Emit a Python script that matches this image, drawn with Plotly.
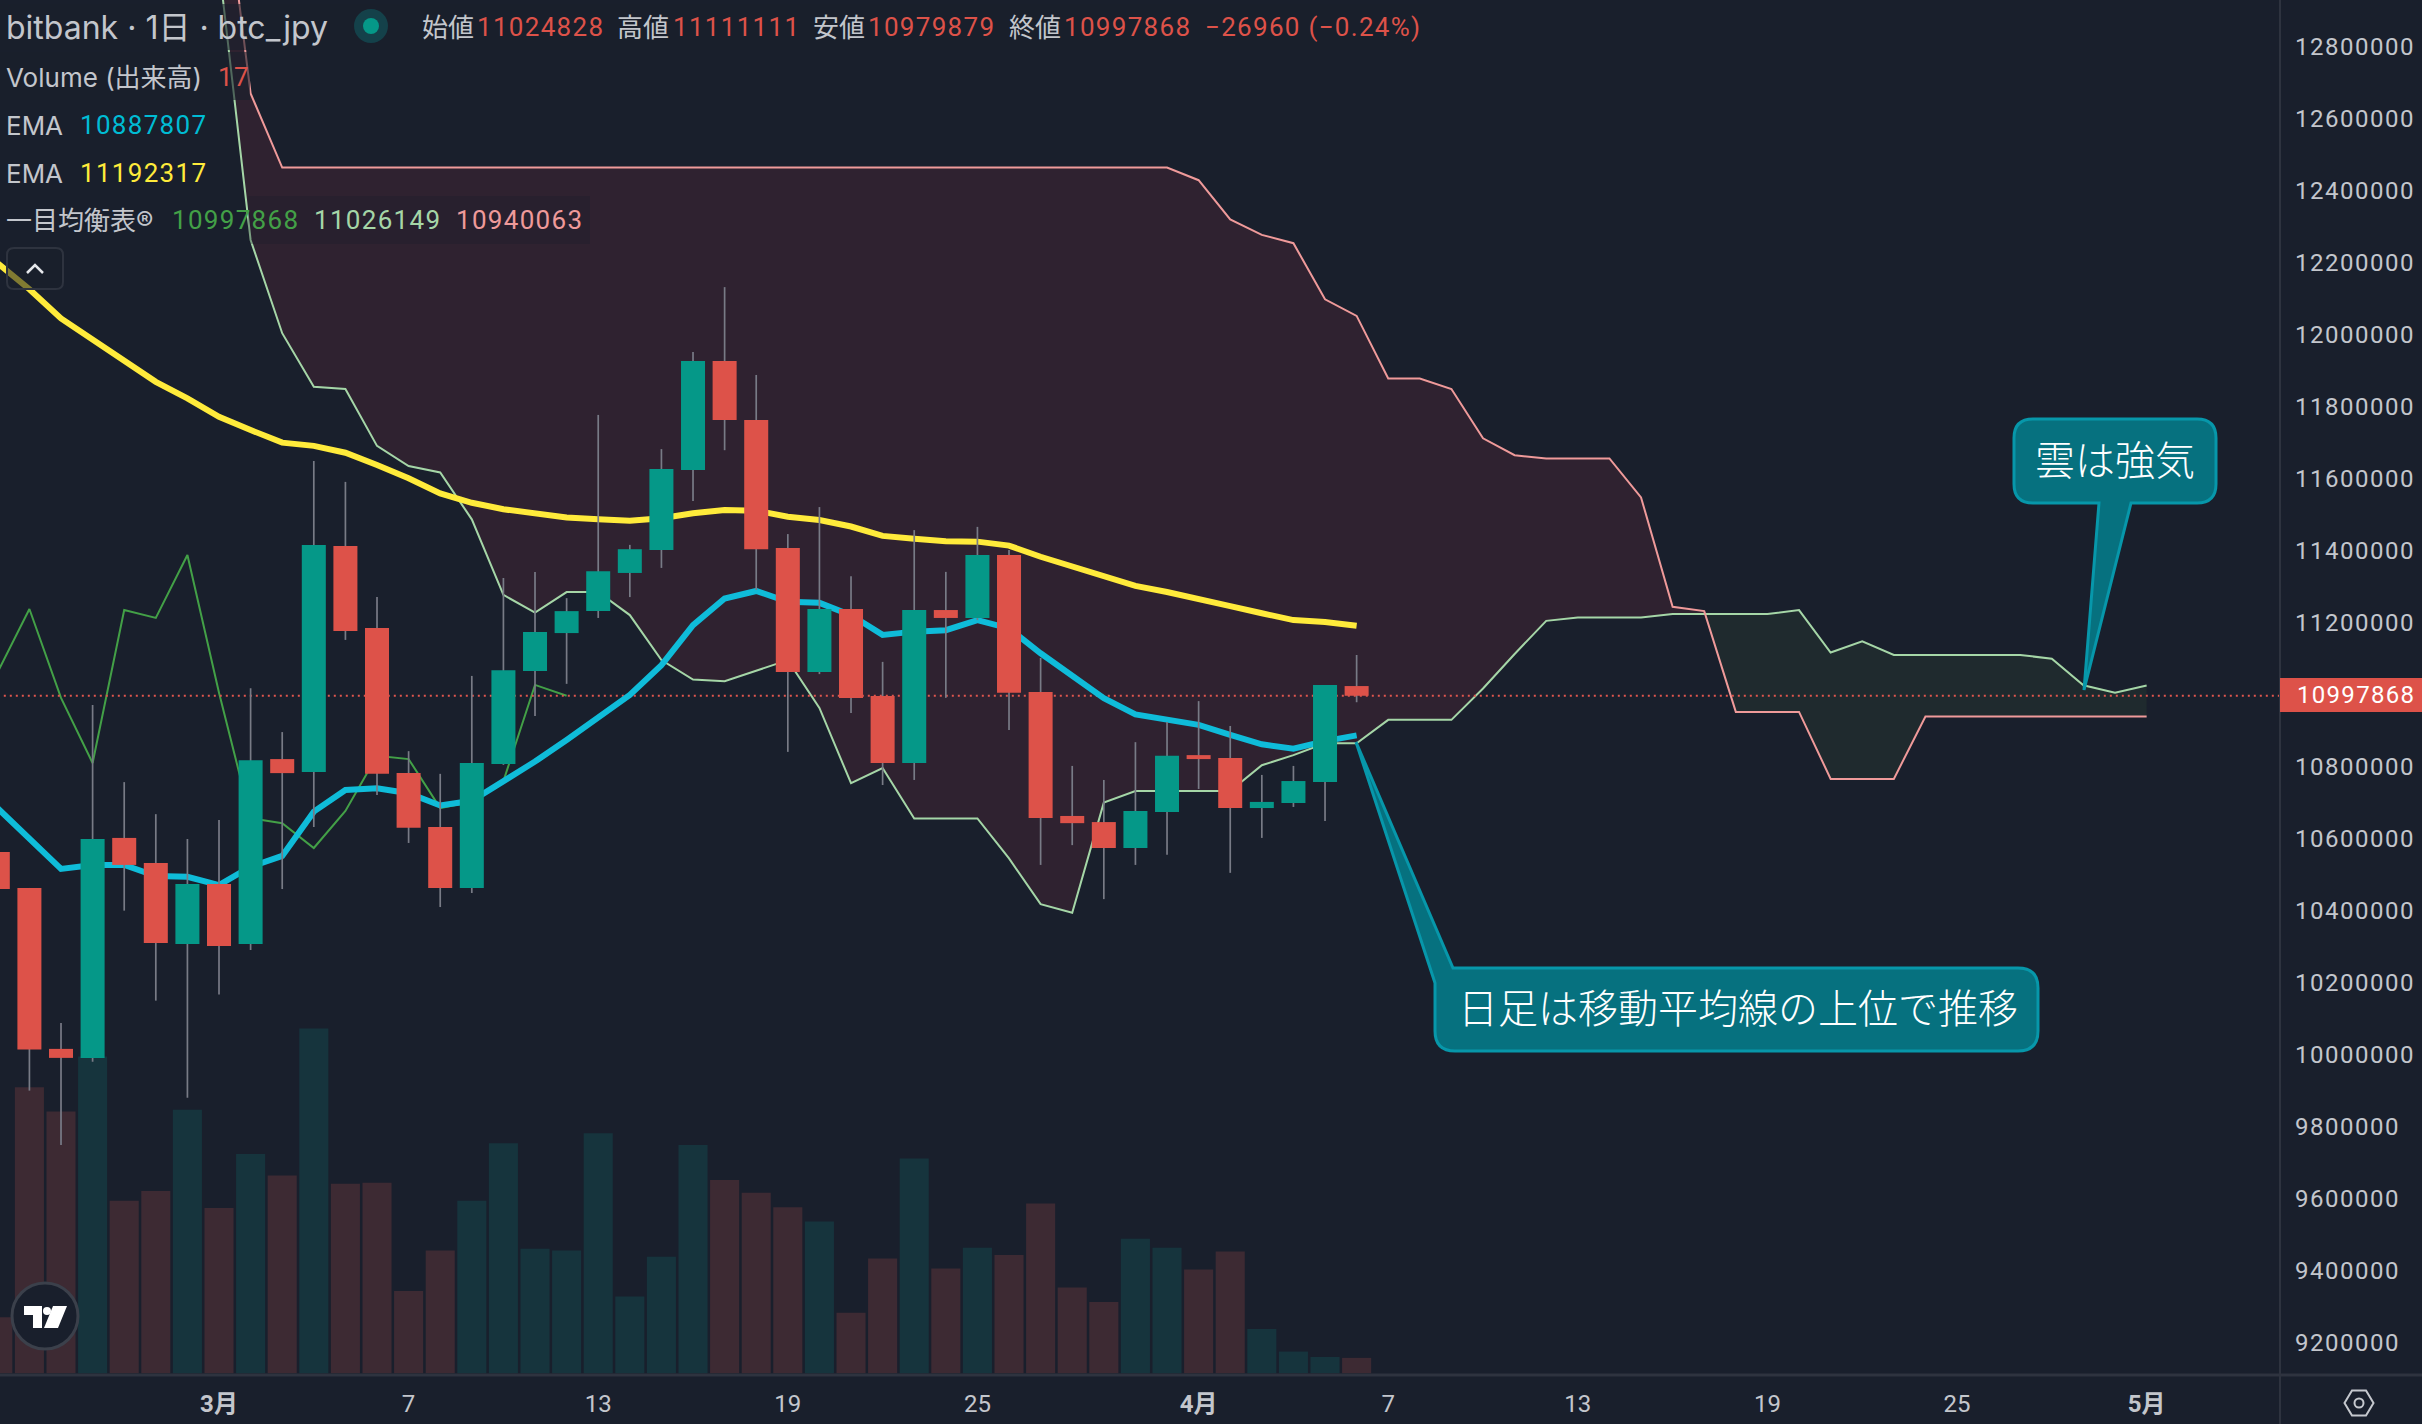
import pandas as pd
import plotly.graph_objects as go

# ------------------------------- DATA -------------------------------
opens = [10564000, 10464000, 10017000, 9992000, 10603000, 10533000, 10308000, 10475000, 10308000, 10822000,
         10786000, 11414000, 11186000, 10783000, 10633000, 10464000, 10808000, 11067000, 11172000, 11233000,
         11339000, 11403000, 11625000, 11928000, 11764000, 11408000, 11064000, 11239000, 10997000, 10811000,
         11236000, 11214000, 11389000, 11008000, 10664000, 10647000, 10575000, 10675000, 10833000, 10825000,
         10686000, 10700000, 10758000, 11024828]
highs = [10564000, 10464000, 10089000, 10972000, 10758000, 10669000, 10600000, 10653000, 11019000, 10897000,
         11650000, 11592000, 11272000, 10844000, 10781000, 11053000, 11325000, 11342000, 11269000, 11778000,
         11417000, 11683000, 11953000, 12133000, 11889000, 11447000, 11522000, 11330000, 11092000, 11458000,
         11342000, 11467000, 11403000, 11103000, 10803000, 10764000, 10869000, 10925000, 10983000, 10914000,
         10778000, 10803000, 11028000, 11111111]
lows = [10461000, 9901000, 9750000, 9981000, 10401000, 10151000, 9881000, 10168000, 10292000, 10461000,
        10633000, 11153000, 10722000, 10589000, 10411000, 10450000, 10806000, 10942000, 11031000, 11214000,
        11272000, 11353000, 11539000, 11680000, 11292000, 10842000, 11058000, 10950000, 10750000, 10764000,
        10992000, 11208000, 10903000, 10528000, 10583000, 10433000, 10528000, 10556000, 10739000, 10506000,
        10603000, 10689000, 10650000, 10979879]
closes = [10461000, 10015000, 9992000, 10600000, 10528000, 10311000, 10475000, 10303000, 10819000, 10783000,
          11417000, 11178000, 10781000, 10631000, 10464000, 10811000, 11069000, 11175000, 11233000, 11344000,
          11405000, 11628000, 11928000, 11764000, 11405000, 11064000, 11239000, 10992000, 10811000, 11236000,
          11214000, 11389000, 11006000, 10658000, 10644000, 10575000, 10678000, 10831000, 10822000, 10686000,
          10703000, 10761000, 11028000, 10997868]
volumes = [62, 317, 290, 351, 191, 202, 292, 183, 243, 219,
           382, 210, 211, 91, 136, 191, 255, 138, 136, 266,
           85, 129, 253, 214, 200, 184, 168, 67, 127, 238,
           116, 139, 131, 188, 95, 79, 149, 139, 115, 135,
           49, 24, 18, 17]
ema_short = [10685000, 10602000, 10517000, 10528000, 10528000, 10497000, 10495000, 10472000, 10523000, 10553000,
             10676000, 10736000, 10741000, 10727000, 10693000, 10706000, 10759000, 10815000, 10875000, 10935000,
             11000000, 11083000, 11194000, 11268000, 11289000, 11259000, 11256000, 11222000, 11167000, 11176000,
             11180000, 11208000, 11185000, 11116000, 11056000, 10991000, 10946000, 10932000, 10917000, 10889000,
             10863000, 10851000, 10872000, 10887807]
ema_long = [12199000, 12127000, 12046000, 11986000, 11930000, 11870000, 11824000, 11773000, 11736000, 11701000,
            11692000, 11673000, 11639000, 11602000, 11560000, 11534000, 11516000, 11503000, 11493000, 11488000,
            11484000, 11491000, 11505000, 11514000, 11512000, 11495000, 11486000, 11468000, 11442000, 11434000,
            11427000, 11426000, 11415000, 11384000, 11356000, 11327000, 11303000, 11286000, 11268000, 11247000,
            11227000, 11208000, 11203000, 11192317]
chikou = [11064000, 11239000, 10992000, 10811000, 11236000, 11214000, 11389000, 11006000, 10658000, 10644000,
          10575000, 10678000, 10831000, 10822000, 10686000, 10703000, 10761000, 11028000, 10997868]
span_a = [13027000, 12264000, 12005000, 11856000, 11850000, 11692000, 11636000, 11618000, 11488000, 11278000,
          11229000, 11286000, 11286000, 11222000, 11097000, 11043000, 11038000, 11068000, 11097000, 10964000,
          10755000, 10797000, 10657000, 10657000, 10657000, 10546000, 10419000, 10395000, 10701000, 10733000,
          10733000, 10733000, 10733000, 10805000, 10833000, 10866000, 10866000, 10931000, 10931000, 10931000,
          11018000, 11114000, 11206000, 11215000, 11215000, 11215000, 11225000, 11225000, 11225000, 11225000,
          11236000, 11118000, 11149000, 11111000, 11111000, 11111000, 11111000, 11111000, 11101000, 11027000,
          11006000, 11026149]
span_b = [13370000, 12671000, 12465000, 12465000, 12465000, 12465000, 12465000, 12465000, 12465000, 12465000,
          12465000, 12465000, 12465000, 12465000, 12465000, 12465000, 12465000, 12465000, 12465000, 12465000,
          12465000, 12465000, 12465000, 12465000, 12465000, 12465000, 12465000, 12465000, 12465000, 12465000,
          12465000, 12430000, 12321000, 12278000, 12255000, 12099000, 12053000, 11879000, 11879000, 11850000,
          11713000, 11666000, 11657000, 11657000, 11657000, 11549000, 11245000, 11233000, 10953000, 10953000,
          10953000, 10767000, 10767000, 10767000, 10940063, 10940063, 10940063, 10940063, 10940063, 10940063,
          10940063, 10940063]
last_price = 10997868

# 11000000 has no label: the last price tag takes its place
price_ticks = [9200000, 9400000, 9600000, 9800000, 10000000, 10200000, 10400000, 10600000, 10800000,
               11200000, 11400000, 11600000, 11800000, 12000000, 12200000, 12400000, 12600000, 12800000]
date_ticks = ["2025-03-01", "2025-03-07", "2025-03-13", "2025-03-19", "2025-03-25", "2025-04-01",
              "2025-04-07", "2025-04-13", "2025-04-19", "2025-04-25", "2025-05-01"]
date_labels = ["<b>3月</b>", "7", "13", "19", "25", "<b>4月</b>", "7", "13", "19", "25", "<b>5月</b>"]

# ------------------------------- COLORS -------------------------------
BG = "#191f2c"
RED = "#dd5249"
GREEN = "#059888"
TEXT = "#c3c6cc"
FONT = "Inter, 'Noto Sans CJK JP', sans-serif"
NUM_FONT = "Roboto, 'Noto Sans CJK JP', sans-serif"
JP_FONT = "'Noto Sans CJK JP', sans-serif"

# plot area in page pixels, for the overlay items drawn on paper coordinates
PLOT_W = 2280
PLOT_H = 1375


def px(x):
    return x / PLOT_W


def py(y):
    return 1 - y / PLOT_H


def pt(x, y):
    return f"{px(x):.5f},{py(y):.5f}"


def rounded_box(x0, y0, x1, y1, r):
    """Corner path pieces of a rounded box, clockwise from the top left corner end."""
    return (f"L{pt(x1 - r, y0)} Q{pt(x1, y0)} {pt(x1, y0 + r)} "
            f"L{pt(x1, y1 - r)} Q{pt(x1, y1)} {pt(x1 - r, y1)} "
            f"L{pt(x0 + r, y1)} Q{pt(x0, y1)} {pt(x0, y1 - r)} ")


# ------------------------------- TRACES -------------------------------
dates = pd.date_range("2025-02-22", periods=len(closes), freq="D")
chikou_dates = dates[:len(chikou)]
span_dates = pd.date_range("2025-03-01", periods=len(span_a), freq="D")
day_ms = 86400000

is_up = [c >= o for o, c in zip(opens, closes)]

fig = go.Figure()

# volume sits on the lower axis so everything on the price axis draws over it
fig.add_trace(go.Bar(
    x=dates, y=volumes, width=0.92 * day_ms,
    marker_color=["#16343d" if up else "#3d2a33" for up in is_up],
    marker_line_width=0, yaxis="y"
))

# cloud, split where the two spans cross
cross = 47
fig.add_trace(go.Scatter(
    x=list(span_dates[:cross + 1]) + list(span_dates[:cross + 1])[::-1],
    y=span_a[:cross + 1] + span_b[:cross + 1][::-1],
    fill="toself", fillcolor="#2f2230", mode="none", yaxis="y2", zorder=1
))
fig.add_trace(go.Scatter(
    x=list(span_dates[cross:]) + list(span_dates[cross:])[::-1],
    y=span_a[cross:] + span_b[cross:][::-1],
    fill="toself", fillcolor="#1f2a2e", mode="none", yaxis="y2", zorder=1
))
fig.add_trace(go.Scatter(x=span_dates, y=span_a, mode="lines", yaxis="y2", zorder=2,
                         line=dict(color="#a5d6a7", width=2)))
fig.add_trace(go.Scatter(x=span_dates, y=span_b, mode="lines", yaxis="y2", zorder=2,
                         line=dict(color="#ef9a9a", width=2)))
fig.add_trace(go.Scatter(x=chikou_dates, y=chikou, mode="lines", yaxis="y2", zorder=2,
                         line=dict(color="#43a047", width=2)))
fig.add_trace(go.Scatter(x=[dates[0], "2025-05-06"], y=[last_price, last_price], mode="lines", yaxis="y2", zorder=3,
                         line=dict(color="#e0564e", width=2, dash="2px,4px")))
fig.add_trace(go.Scatter(x=dates, y=ema_short, mode="lines", yaxis="y2", zorder=4,
                         line=dict(color="#0fbcd9", width=6)))
fig.add_trace(go.Scatter(x=dates, y=ema_long, mode="lines", yaxis="y2", zorder=4,
                         line=dict(color="#ffeb3b", width=6)))

# gray wicks under coloured bodies
wick_x, wick_y = [], []
for d, h, l in zip(dates, highs, lows):
    wick_x += [d, d, None]
    wick_y += [h, l, None]
fig.add_trace(go.Scatter(x=wick_x, y=wick_y, mode="lines", yaxis="y2", zorder=5,
                         line=dict(color="#787b86", width=1.7)))
fig.add_trace(go.Bar(
    x=dates,
    y=[abs(c - o) for o, c in zip(opens, closes)],
    base=[min(o, c) for o, c in zip(opens, closes)],
    width=0.76 * day_ms,
    marker_color=[GREEN if up else RED for up in is_up],
    marker_line_width=0, yaxis="y2", zorder=6
))

# ------------------------------- OVERLAY SHAPES -------------------------------
shapes = []


def add_shape(**kw):
    shapes.append(dict(xref="paper", yref="paper", layer="above", **kw))


# legend row backgrounds
add_shape(type="rect", x0=px(0), x1=px(1430), y0=py(4), y1=py(50), fillcolor="rgba(25,31,44,0.6)", line_width=0)
add_shape(type="rect", x0=px(0), x1=px(250), y0=py(52), y1=py(100), fillcolor="rgba(25,31,44,0.6)", line_width=0)
add_shape(type="rect", x0=px(248), x1=px(590), y0=py(196), y1=py(244), fillcolor="rgba(25,31,44,0.3)", line_width=0)

# axis borders
add_shape(type="line", x0=px(PLOT_W), x1=px(PLOT_W), y0=py(0), y1=py(1424), line=dict(color="#2e333f", width=2))
add_shape(type="line", x0=px(0), x1=px(2422), y0=py(PLOT_H), y1=py(PLOT_H), line=dict(color="#2e333f", width=3))

# last price tag
add_shape(type="rect", x0=px(PLOT_W), x1=px(2422), y0=py(678), y1=py(712), fillcolor=RED, line_width=0)

# series status dot
add_shape(type="circle", x0=px(354), x1=px(388), y0=py(9), y1=py(43), fillcolor="#14414a", line_width=0)
add_shape(type="circle", x0=px(363), x1=px(379), y0=py(18), y1=py(34), fillcolor=GREEN, line_width=0)

# collapse button
add_shape(type="path", path=f"M{pt(14, 248)} " + rounded_box(7, 248, 63, 289, 7) + f"L{pt(7, 255)} Q{pt(7, 248)} {pt(14, 248)} Z",
          fillcolor="rgba(25,31,44,0.55)", line=dict(color="#2e333f", width=2))
add_shape(type="path", path=f"M{pt(27, 273)} L{pt(35, 265)} L{pt(43, 273)}", line=dict(color="#e6e8ec", width=2.5))

# TradingView badge
add_shape(type="circle", x0=px(12), x1=px(78), y0=py(1283), y1=py(1349), fillcolor=BG, line=dict(color="#3b404b", width=3))
add_shape(type="path", path=f"M{pt(24, 1306)} L{pt(42, 1306)} L{pt(42, 1328)} L{pt(33, 1328)} L{pt(33, 1315)} L{pt(24, 1315)} Z",
          fillcolor="#ffffff", line_width=0)
add_shape(type="circle", x0=px(43), x1=px(51), y0=py(1307), y1=py(1315), fillcolor="#ffffff", line_width=0)
add_shape(type="path", path=f"M{pt(53, 1306)} L{pt(67, 1306)} L{pt(58, 1328)} L{pt(44, 1328)} Z", fillcolor="#ffffff", line_width=0)

# settings icon
add_shape(type="path",
          path=f"M{pt(2344.5, 1403)} L{pt(2352, 1390.5)} L{pt(2366, 1390.5)} L{pt(2373.5, 1403)} L{pt(2366, 1415.5)} L{pt(2352, 1415.5)} Z",
          line=dict(color="#c5c8ce", width=2))
add_shape(type="circle", x0=px(2354.5), x1=px(2363.5), y0=py(1398.5), y1=py(1407.5), line=dict(color="#c5c8ce", width=2))

# callouts
CALL_FILL = "#06717f"
CALL_LINE = "#0797aa"
path_day = (f"M{pt(1356, 742)} L{pt(1453, 968)} " + rounded_box(1435, 968, 2038, 1051, 20)
            + f"L{pt(1435, 983)} Z")
add_shape(type="path", path=path_day, fillcolor=CALL_FILL, line=dict(color=CALL_LINE, width=3))
path_cloud = (f"M{pt(2084, 690)} L{pt(2099, 503)} L{pt(2033, 503)} Q{pt(2014, 503)} {pt(2014, 484)} "
              f"L{pt(2014, 438)} Q{pt(2014, 419)} {pt(2033, 419)} L{pt(2197, 419)} Q{pt(2216, 419)} {pt(2216, 438)} "
              f"L{pt(2216, 484)} Q{pt(2216, 503)} {pt(2197, 503)} L{pt(2131, 503)} Z")
add_shape(type="path", path=path_cloud, fillcolor=CALL_FILL, line=dict(color=CALL_LINE, width=3))

# ------------------------------- TEXT -------------------------------
annotations = []


def add_text(text, x, y, color=TEXT, size=26, anchor="left", family=FONT, weight=None):
    annotations.append(dict(
        text=text, x=px(x - 2 if anchor == "left" else x), y=py(y), xref="paper", yref="paper",
        xanchor=anchor, yanchor="middle", align=anchor, showarrow=False,
        font=dict(color=color, size=size, family=family, weight=weight)
    ))


add_text("bitbank · 1日 · btc_jpy", 6, 27, size=32)
add_text("始値", 422, 27)
add_text("11024828", 477, 27, RED, family=NUM_FONT)
add_text("高値", 617, 27)
add_text("11111111", 673, 27, RED, family=NUM_FONT)
add_text("安値", 813, 27)
add_text("10979879", 868, 27, RED, family=NUM_FONT)
add_text("終値", 1009, 27)
add_text("10997868", 1064, 27, RED, family=NUM_FONT)
add_text("−26960 (−0.24%)", 1205, 27, RED, family=NUM_FONT)
add_text("Volume (出来高)", 6, 77)
add_text("17", 218, 77, RED, family=NUM_FONT)
add_text("EMA", 6, 125)
add_text("10887807", 80, 125, "#00bcd4", family=NUM_FONT)
add_text("EMA", 6, 173)
add_text("11192317", 80, 173, "#ffeb3b", family=NUM_FONT)
add_text("一目均衡表®", 6, 220)
add_text("10997868", 172, 220, "#43a047", family=NUM_FONT)
add_text("11026149", 314, 220, "#a5d6a7", family=NUM_FONT)
add_text("10940063", 456, 220, "#ef9a9a", family=NUM_FONT)
add_text("10997868", 2297, 695, "#ffffff", 24, family=NUM_FONT)
add_text("日足は移動平均線の上位で推移", 1738, 1006, "#ffffff", 40, "center", JP_FONT, 300)
add_text("雲は強気", 2115, 458, "#ffffff", 40, "center", JP_FONT, 300)

# ------------------------------- LAYOUT -------------------------------
fig.update_layout(
    width=2422,
    height=1424,
    margin=dict(l=0, r=142, t=0, b=49, pad=0),
    paper_bgcolor=BG,
    plot_bgcolor=BG,
    showlegend=False,
    barmode="overlay",
    hovermode=False,
    font=dict(family=FONT, color=TEXT),
    shapes=shapes,
    annotations=annotations,
    xaxis=dict(
        type="date",
        range=["2025-02-22 01:40", "2025-05-05 05:17"],
        tickmode="array",
        tickvals=date_ticks,
        ticktext=date_labels,
        tickfont=dict(size=24, color=TEXT, family=NUM_FONT),
        tickangle=0,
        ticklen=0,
        ticklabelstandoff=12,
        showgrid=False,
        zeroline=False,
        showline=False
    ),
    yaxis=dict(range=[-2, 1522], visible=False),
    yaxis2=dict(
        overlaying="y",
        side="right",
        range=[9111111, 12930556],
        tickmode="array",
        tickvals=price_ticks,
        ticktext=[str(v) for v in price_ticks],
        tickfont=dict(size=24, color=TEXT, family=NUM_FONT),
        ticklen=0,
        ticklabelstandoff=14,
        showgrid=False,
        zeroline=False,
        showline=False
    )
)

# plotly has no letter spacing option and the reference digits sit wider apart
page_css = (
    "var s=document.createElement('style');"
    "s.textContent='.y2tick text{letter-spacing:1.5px;}.annotation-text[style*=\"Roboto\"]{letter-spacing:1.3px;}';"
    "document.head.appendChild(s);"
    "document.body.style.margin='0';document.body.style.overflow='hidden';"
)
fig.write_html("out.html", config={"displayModeBar": False}, post_script=page_css)
